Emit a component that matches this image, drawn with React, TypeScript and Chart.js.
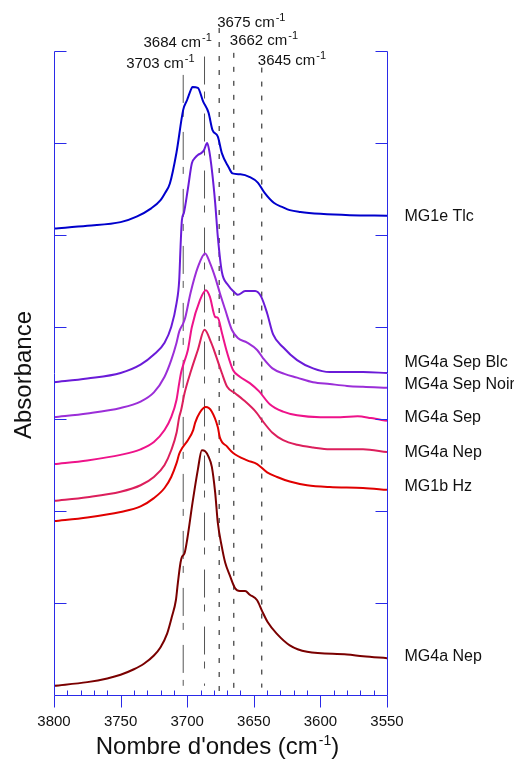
import React, { useEffect, useRef } from "react";
import { Chart, registerables } from "chart.js";

Chart.register(...registerables);

// ---------- axes ----------
const xTicks = [3800, 3750, 3700, 3650, 3600, 3550];
const xMinorStep = 10;
const yTicks = [1, 2, 3, 4, 5, 6, 7];

// ---------- series ----------
const seriesNames = ["MG1e Tlc", "MG4a Sep Blc", "MG4a Sep Noir", "MG4a Sep", "MG4a Nep", "MG1b Hz", "MG4a Nep"];
const seriesColors = ["#0000cc", "#6a1bd8", "#9b2ed8", "#ee138a", "#dc1f5c", "#e00000", "#7a0000"];
const labelLevels = [5.2, 3.61, 3.37, 3.01, 2.64, 2.26, 0.42];

const tlcWn = [3800, 3775, 3750, 3738, 3727, 3720, 3716.5, 3713, 3708, 3703, 3700, 3698, 3696, 3692, 3688, 3684, 3681, 3677, 3674, 3669, 3666, 3660, 3653, 3647, 3642, 3635, 3628, 3623, 3615, 3600, 3578, 3550];
const tlcAbs = [5.07, 5.1, 5.14, 5.2, 5.29, 5.38, 5.46, 5.56, 5.9, 6.36, 6.47, 6.55, 6.61, 6.6, 6.45, 6.33, 6.14, 6.07, 5.89, 5.74, 5.67, 5.66, 5.63, 5.57, 5.46, 5.35, 5.3, 5.27, 5.25, 5.23, 5.215, 5.21];

const blcWn = [3800, 3775, 3750, 3735, 3725, 3717, 3712, 3708, 3706, 3705, 3704, 3702.5, 3699.5, 3696.5, 3694, 3692, 3689.5, 3687.5, 3685, 3683.5, 3681.5, 3679, 3677, 3674, 3669.5, 3664, 3662, 3656.5, 3649, 3644.5, 3640, 3635.5, 3628, 3617.5, 3605.5, 3593, 3568, 3550];
const blcAbs = [3.4, 3.44, 3.5, 3.59, 3.7, 3.83, 4.0, 4.26, 4.51, 4.87, 5.16, 5.24, 5.5, 5.78, 5.84, 5.87, 5.89, 5.92, 6.0, 5.92, 5.71, 5.35, 4.98, 4.6, 4.46, 4.37, 4.35, 4.39, 4.39, 4.33, 4.15, 3.92, 3.78, 3.64, 3.55, 3.51, 3.51, 3.5];

const noirWn = [3800, 3775, 3750, 3735, 3725, 3717, 3712, 3708, 3706, 3703, 3701.5, 3697.5, 3692, 3686.5, 3683, 3679, 3675.5, 3671.5, 3666.5, 3662, 3655, 3647.5, 3643, 3636, 3627, 3617.5, 3605.5, 3593, 3580, 3568, 3550];
const noirAbs = [3.02, 3.06, 3.12, 3.19, 3.29, 3.46, 3.64, 3.83, 3.95, 4.04, 4.1, 4.37, 4.65, 4.8, 4.7, 4.54, 4.37, 4.19, 3.97, 3.88, 3.83, 3.75, 3.66, 3.55, 3.49, 3.45, 3.4, 3.38, 3.36, 3.35, 3.34];

const sepWn = [3800, 3775, 3750, 3735, 3725, 3717, 3712, 3708, 3706, 3704.5, 3702.5, 3699.5, 3696.5, 3690.5, 3686, 3683, 3679, 3677, 3674, 3670, 3665.5, 3660.5, 3653, 3646, 3638, 3628, 3617.5, 3600, 3585, 3572, 3562, 3550];
const sepAbs = [2.51, 2.55, 2.61, 2.67, 2.75, 2.88, 3.02, 3.21, 3.39, 3.51, 3.61, 3.75, 4.0, 4.29, 4.4, 4.33, 4.11, 4.1, 3.94, 3.72, 3.53, 3.46, 3.39, 3.3, 3.16, 3.08, 3.04, 3.02, 3.02, 3.03, 3.01, 2.98];

const nepWn = [3800, 3775, 3750, 3735, 3725, 3717, 3712, 3708, 3706, 3704.5, 3702, 3697, 3692, 3687, 3682, 3678, 3674, 3670, 3664, 3658, 3648, 3644, 3636, 3628, 3617.5, 3605.5, 3593, 3568, 3550];
const nepAbs = [2.11, 2.15, 2.21, 2.28, 2.37, 2.5, 2.66, 2.85, 3.02, 3.1, 3.28, 3.53, 3.75, 3.97, 3.83, 3.67, 3.5, 3.35, 3.28, 3.21, 3.07, 2.99, 2.85, 2.77, 2.72, 2.69, 2.67, 2.67, 2.64];

const hzWn = [3800, 3775, 3750, 3735, 3725, 3717, 3712, 3708, 3706, 3703.5, 3699.5, 3695.5, 3694, 3690.5, 3686, 3681.5, 3677, 3675.5, 3670, 3665.5, 3655, 3647.5, 3640, 3632.5, 3623, 3610, 3593, 3568, 3550];
const hzAbs = [1.89, 1.93, 1.99, 2.05, 2.14, 2.25, 2.37, 2.52, 2.62, 2.69, 2.77, 2.88, 2.96, 3.07, 3.13, 3.08, 2.91, 2.8, 2.7, 2.63, 2.55, 2.51, 2.42, 2.37, 2.32, 2.28, 2.26, 2.25, 2.23];

const nep2Wn = [3800, 3775, 3760, 3750, 3740, 3732.5, 3725, 3720, 3715, 3711.5, 3708.5, 3707, 3705, 3704, 3702, 3700, 3696, 3692, 3689, 3686.5, 3684, 3681.5, 3679, 3677, 3674, 3671.5, 3668, 3664, 3660.5, 3656.5, 3653, 3647.5, 3644, 3639.5, 3633, 3623, 3610, 3580, 3568, 3550];
const nep2Abs = [0.1, 0.14, 0.18, 0.22, 0.28, 0.34, 0.43, 0.52, 0.67, 0.85, 1.03, 1.22, 1.44, 1.5, 1.54, 1.69, 2.09, 2.45, 2.66, 2.65, 2.59, 2.48, 2.2, 1.87, 1.61, 1.44, 1.3, 1.16, 1.13, 1.13, 1.09, 1.03, 0.92, 0.79, 0.67, 0.54, 0.47, 0.44, 0.42, 0.4];

const seriesWn = [tlcWn, blcWn, noirWn, sepWn, nepWn, hzWn, nep2Wn];
const seriesAbs = [tlcAbs, blcAbs, noirAbs, sepAbs, nepAbs, hzAbs, nep2Abs];

// ---------- reference lines ----------
const peakLines = [3703, 3687, 3676, 3665, 3644];
const peakLabels = ["3703", "3684", "3675", "3662", "3645"];
const peakTop = [6.74, 6.94, 7.25, 6.98, 6.82];
const peakBottom = [0.1, 0.1, 0.02, 0.02, 0.08];
const peakLong = [true, true, false, false, false];

// label layout (pixels, styling only)
const peakLabelDx = [-57, -61, -2, -4, -4];
const peakLabelMidY = [62, 41, 21, 39, 59];

const FONT = "'Liberation Sans', Arial, Helvetica, sans-serif";
const AXIS_COLOR = "#2a2ae8";

function drawSup(ctx: CanvasRenderingContext2D, x: number, base: number, main: string, sup: string, tail: string, mainSize: number, supSize: number, rise: number, align: "left" | "center") {
  ctx.font = `${mainSize}px ${FONT}`;
  const wMain = ctx.measureText(main).width;
  const wTail = ctx.measureText(tail).width;
  ctx.font = `${supSize}px ${FONT}`;
  const wSup = ctx.measureText(sup).width;
  const total = wMain + wSup + wTail + 1;
  let sx = align === "center" ? x - total / 2 : x;
  ctx.textAlign = "left";
  ctx.textBaseline = "alphabetic";
  ctx.font = `${mainSize}px ${FONT}`;
  ctx.fillText(main, sx, base);
  sx += wMain + 1;
  ctx.font = `${supSize}px ${FONT}`;
  ctx.fillText(sup, sx, base - rise);
  sx += wSup;
  if (tail) {
    ctx.font = `${mainSize}px ${FONT}`;
    ctx.fillText(tail, sx, base);
  }
}

const overlay = {
  id: "overlay",
  afterDraw(chart: any) {
    const { ctx, chartArea: a } = chart;
    const x = chart.scales.x;
    const y = chart.scales.y;
    ctx.save();
    ctx.strokeStyle = AXIS_COLOR;
    ctx.lineWidth = 1;
    const L = Math.round(a.left) + 0.5;
    const R = Math.round(a.right) + 0.5;
    const B = Math.round(a.bottom) + 0.5;
    const T = Math.round(y.getPixelForValue(7)) + 0.5;
    ctx.beginPath();
    ctx.moveTo(L, T); ctx.lineTo(L, B);
    ctx.moveTo(R, T); ctx.lineTo(R, B);
    ctx.moveTo(L, B); ctx.lineTo(R, B);
    for (const v of yTicks) {
      const py = Math.round(y.getPixelForValue(v)) + 0.5;
      ctx.moveTo(L, py); ctx.lineTo(L + 12, py);
      ctx.moveTo(R, py); ctx.lineTo(R - 12, py);
    }
    for (const v of xTicks) {
      const px = Math.round(x.getPixelForValue(v)) + 0.5;
      ctx.moveTo(px, B); ctx.lineTo(px, B + 12);
    }
    for (let v = 3550 + xMinorStep; v < 3800; v += xMinorStep) {
      if (v % 50 === 0) continue;
      const px = Math.round(x.getPixelForValue(v)) + 0.5;
      ctx.moveTo(px, B); ctx.lineTo(px, B - 5);
    }
    ctx.stroke();

    ctx.fillStyle = "#111";
    ctx.font = `15px ${FONT}`;
    ctx.textAlign = "center";
    ctx.textBaseline = "alphabetic";
    for (const v of xTicks) {
      ctx.fillText(String(v), x.getPixelForValue(v), B + 30);
    }

    // x title
    drawSup(ctx, (a.left + a.right) / 2 - 3, 754, "Nombre d'ondes (cm", "-1", ")", 24, 14, 9, "center");

    // y title
    ctx.save();
    ctx.translate(24, 375);
    ctx.rotate(-Math.PI / 2);
    ctx.font = `24px ${FONT}`;
    ctx.textAlign = "center";
    ctx.textBaseline = "middle";
    ctx.fillText("Absorbance", 0, 0);
    ctx.restore();

    // series labels
    seriesNames.forEach((n, i) => {
      ctx.font = `16px ${FONT}`;
      ctx.textAlign = "left";
      ctx.textBaseline = "middle";
      ctx.fillText(n, R + 17, y.getPixelForValue(labelLevels[i]));
    });

    // peak labels
    peakLabels.forEach((lab, i) => {
      const px = x.getPixelForValue(peakLines[i]);
      drawSup(ctx, px + peakLabelDx[i], peakLabelMidY[i] + 6, `${lab} cm`, "-1", "", 15, 11, 6, "left");
    });
    ctx.restore();
  },
};

export default function App() {
  const ref = useRef<HTMLCanvasElement | null>(null);
  useEffect(() => {
    if (!ref.current) return;
    const datasets: any[] = [];
    seriesWn.forEach((wn, i) => {
      datasets.push({
        label: seriesNames[i],
        data: wn.map((w, k) => ({ x: w, y: seriesAbs[i][k] })),
        borderColor: seriesColors[i],
        borderWidth: 2,
        pointRadius: 0,
        tension: 0.4,
        cubicInterpolationMode: "monotone",
        fill: false,
        order: 0,
      });
    });
    peakLines.forEach((w, i) => {
      datasets.push({
        label: `ref ${peakLabels[i]}`,
        data: [{ x: w, y: peakTop[i] }, { x: w, y: peakBottom[i] }],
        borderColor: peakLong[i] ? "#555" : "#111",
        borderWidth: 1,
        borderDash: peakLong[i] ? [28, 7, 7, 15] : [5, 9],
        pointRadius: 0,
        tension: 0,
        clip: false,
        fill: false,
        order: 1,
      });
    });
    const chart = new Chart(ref.current, {
      type: "line",
      data: { datasets },
      options: {
        animation: false,
        responsive: false,
        maintainAspectRatio: false,
        devicePixelRatio: 1,
        layout: { padding: { left: 54, right: 127, top: 51, bottom: 72 } },
        plugins: { legend: { display: false }, tooltip: { enabled: false } },
        scales: {
          x: { type: "linear", min: 3550, max: 3800, reverse: true, display: false },
          y: { type: "linear", min: 0, max: 7, display: false },
        },
      },
      plugins: [overlay],
    } as any);
    return () => chart.destroy();
  }, []);
  return (
    <div style={{ position: "absolute", left: 0, top: 0, width: 514, height: 767, background: "#fff" }}>
      <canvas ref={ref} width={514} height={767} style={{ display: "block", width: 514, height: 767 }} />
    </div>
  );
}
